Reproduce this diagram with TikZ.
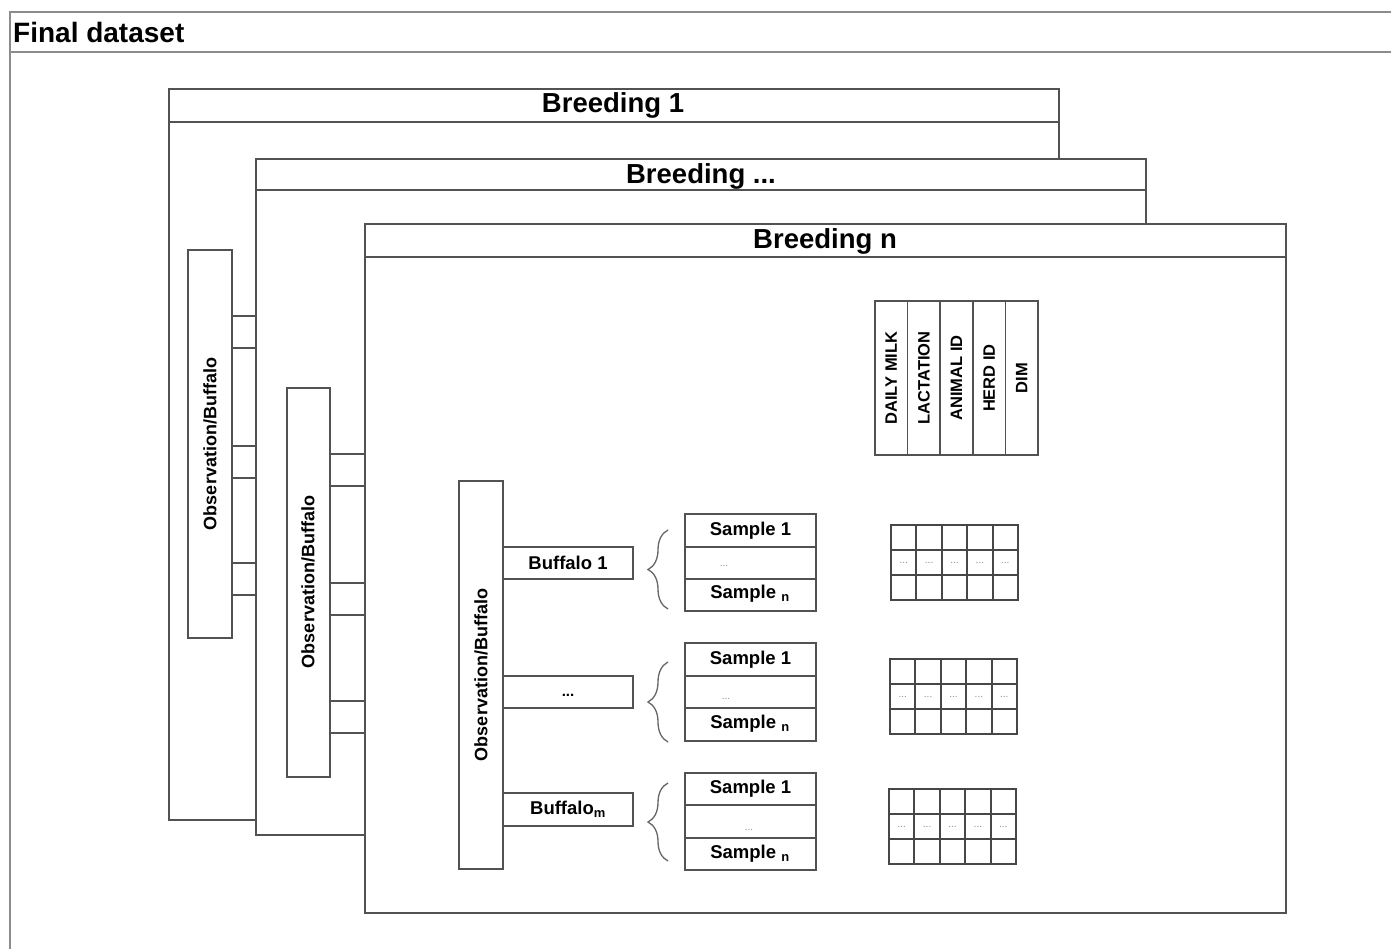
\documentclass[tikz,border=0pt]{standalone}
\usepackage{fontspec}
\setmainfont{Liberation Sans}
\usetikzlibrary{decorations.pathreplacing}
\begin{document}
\begin{tikzpicture}[x=1pt,y=-1pt,
  ln/.style={draw=black!68, line width=1.5pt},
  frameln/.style={draw=black!45, line width=2pt},
  bbox/.style={ln, fill=white, anchor=north west, inner sep=0pt, outer sep=0pt},
  cellbox/.style={ln, fill=white, anchor=north west, inner sep=0pt, outer sep=0pt},
  gridbox/.style={draw=black!72, line width=1.9pt, fill=white, anchor=north west, inner sep=0pt, outer sep=0pt},
  bigtitle/.style={font=\fontsize{27.5}{30}\selectfont\bfseries, inner sep=0pt},
  lbl/.style={font=\fontsize{18.5}{20}\selectfont\bfseries, inner sep=0pt},
  obs/.style={font=\fontsize{18}{20}\selectfont\bfseries, rotate=90, inner sep=0pt},
  colhd/.style={font=\fontsize{16.5}{18}\selectfont\bfseries, rotate=90, inner sep=0pt},
  tinydots/.style={font=\fontsize{10}{10}\selectfont, text=black!45, inner sep=0pt},
  bracestyle/.style={draw=black!60, line width=1.3pt, decorate, decoration={brace, amplitude=20pt}}
]
\useasboundingbox (0,0) rectangle (1391,949);
\clip (0,0) rectangle (1391,949);
\fill[white] (0,0) rectangle (1391,949);

% outer frame
\coordinate (fa) at (10,960);
\coordinate (fb) at (10,12);
\coordinate (fc) at (1400,12);
\coordinate (fd) at (10,52);
\coordinate (fe) at (1400,52);
\draw[frameln] (fa) -- (fb) -- (fc);
\draw[frameln] (fd) -- (fe);
\node[font=\fontsize{28}{30}\selectfont\bfseries, inner sep=0pt, anchor=west] (final) at (13,32) {Final dataset};

% ---------- Breeding 1 ----------
\node[bbox, minimum width=890pt, minimum height=731pt] (b1) at (169,89) {};
\coordinate (b1l) at (169,122); \coordinate (b1r) at (1059,122);
\draw[ln] (b1l) -- (b1r);
\node[bigtitle] (b1t) at (613,105) {Breeding 1};
\node[cellbox, minimum width=44pt, minimum height=388pt] (c1) at (188,250) {};
\node[obs] (c1t) at (210,444) {Observation/Buffalo};
\foreach \yy [count=\i] in {316,446,563}{
  \node[cellbox, minimum width=130pt, minimum height=32pt] (c1b\i) at (232,\yy) {};
}

% ---------- Breeding ... ----------
\node[bbox, minimum width=890pt, minimum height=676pt] (b2) at (256,159) {};
\coordinate (b2l) at (256,190); \coordinate (b2r) at (1146,190);
\draw[ln] (b2l) -- (b2r);
\node[bigtitle] (b2t) at (701,176) {Breeding ...};
\node[cellbox, minimum width=43pt, minimum height=389pt] (c2) at (287,388) {};
\node[obs] (c2t) at (308,582) {Observation/Buffalo};
\foreach \yy [count=\i] in {454,583,701}{
  \node[cellbox, minimum width=130pt, minimum height=32pt] (c2b\i) at (330,\yy) {};
}

% ---------- Breeding n ----------
\node[bbox, minimum width=921pt, minimum height=689pt] (b3) at (365,224) {};
\coordinate (b3l) at (365,257); \coordinate (b3r) at (1286,257);
\draw[ln, line width=2pt] (b3l) -- (b3r);
\node[bigtitle] (b3t) at (825,241) {Breeding n};

% observation column
\node[cellbox, minimum width=44pt, minimum height=388pt] (c3) at (459,481) {};
\node[obs] (c3t) at (481,675) {Observation/Buffalo};

% buffalo boxes
\node[cellbox, minimum width=130pt, minimum height=32pt] (buf1) at (503,547) {};
\node[lbl] at (buf1.center) {Buffalo 1};
\node[cellbox, minimum width=130pt, minimum height=32pt] (buf2) at (503,676) {};
\node[font=\fontsize{15}{16}\selectfont\bfseries, inner sep=0pt] at ([yshift=-3pt]buf2.center) {...};
\node[cellbox, minimum width=130pt, minimum height=33pt] (buf3) at (503,793) {};
\node[lbl] at (buf3.center) {Buffalo\textsubscript{m}};

% braces
\coordinate (br1a) at (668,609); \coordinate (br1b) at (668,530);
\coordinate (br2a) at (668,742); \coordinate (br2b) at (668,662);
\coordinate (br3a) at (668,861); \coordinate (br3b) at (668,783);
\draw[bracestyle] (br1a) -- (br1b);
\draw[bracestyle] (br2a) -- (br2b);
\draw[bracestyle] (br3a) -- (br3b);

% sample groups
\node[cellbox, minimum width=131pt, minimum height=33pt] (s11) at (685,514) {};
\node[lbl] at (s11.center) {Sample 1};
\node[cellbox, minimum width=131pt, minimum height=32pt] (s12) at (685,547) {};
\node[tinydots] at (724,566) {...};
\node[cellbox, minimum width=131pt, minimum height=32pt] (s13) at (685,579) {};
\node[lbl] at (750,594) {Sample \textsubscript{n}};

\node[cellbox, minimum width=131pt, minimum height=33pt] (s21) at (685,643) {};
\node[lbl] at (s21.center) {Sample 1};
\node[cellbox, minimum width=131pt, minimum height=32pt] (s22) at (685,676) {};
\node[tinydots] at (726,699) {...};
\node[cellbox, minimum width=131pt, minimum height=33pt] (s23) at (685,708) {};
\node[lbl] at (750,724) {Sample \textsubscript{n}};

\node[cellbox, minimum width=131pt, minimum height=32pt] (s31) at (685,773) {};
\node[lbl] at (s31.center) {Sample 1};
\node[cellbox, minimum width=131pt, minimum height=33pt] (s32) at (685,805) {};
\node[tinydots] at (749,830) {...};
\node[cellbox, minimum width=131pt, minimum height=32pt] (s33) at (685,838) {};
\node[lbl] at (750,854) {Sample \textsubscript{n}};

% column headers table
\foreach \xx/\tt [count=\i] in {875/DAILY MILK,907.6/LACTATION,940.2/ANIMAL ID,972.8/HERD ID,1005.4/DIM}{
  \node[cellbox, minimum width=32.6pt, minimum height=154pt] (h\i) at (\xx,301) {};
  \node[colhd] at (h\i.center) {\tt};
}

% grids
\foreach \gx/\gy [count=\g] in {891/525, 890/659, 889/789}{
  \foreach \r in {0,1,2}{
    \foreach \c in {0,...,4}{
      \node[gridbox, minimum width=25.4pt, minimum height=25pt] (g\g r\r c\c) at ({\gx+25.4*\c},{\gy+25*\r}) {};
    }
  }
  \foreach \c in {0,...,4}{
    \node[tinydots] at (g\g r1c\c.center) {...};
  }
}
\end{tikzpicture}
\end{document}
